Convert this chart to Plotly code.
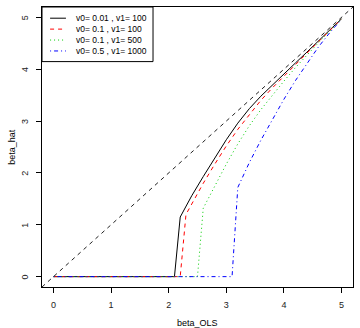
import plotly.graph_objects as go

# ---- data ----
x_a = [0, 2.1, 2.2, 2.4, 2.6, 2.8, 3.0, 3.2, 3.4, 3.6, 3.8, 4.0, 4.2, 4.4, 4.6, 4.8, 5.0]
y_a = [0, 0, 1.15, 1.56, 1.93, 2.29, 2.64, 2.96, 3.24, 3.48, 3.70, 3.91, 4.12, 4.33, 4.55, 4.76, 4.97]

x_b = [0, 2.2, 2.3, 2.4, 2.6, 2.8, 3.0, 3.2, 3.4, 3.6, 3.8, 4.0, 4.2, 4.4, 4.6, 4.8, 5.0]
y_b = [0, 0, 1.2, 1.4, 1.8, 2.17, 2.52, 2.84, 3.13, 3.40, 3.64, 3.87, 4.09, 4.31, 4.53, 4.75, 4.97]

x_c = [0, 2.5, 2.6, 2.8, 3.0, 3.2, 3.4, 3.6, 3.8, 4.0, 4.2, 4.4, 4.6, 4.8, 5.0]
y_c = [0, 0, 1.32, 1.75, 2.17, 2.56, 2.91, 3.22, 3.50, 3.77, 4.03, 4.28, 4.51, 4.74, 4.97]

x_d = [0, 3.1, 3.2, 3.4, 3.6, 3.8, 4.0, 4.2, 4.4, 4.6, 4.8, 5.0]
y_d = [0, 0, 1.72, 2.2, 2.63, 3.04, 3.42, 3.78, 4.11, 4.43, 4.71, 4.96]

labels = ["v0= 0.01 , v1= 100", "v0= 0.1 , v1= 100", "v0= 0.1 , v1= 500", "v0= 0.5 , v1= 1000"]
tick_vals = [0, 1, 2, 3, 4, 5]
tick_text = ["0", "1", "2", "3", "4", "5"]
abline_intercept, abline_slope = 0, 1
x_title = "beta_OLS"
y_title = "beta_hat"

# ---- styles ----
colors = ["black", "red", "#00CD00", "blue"]
dashes = ["solid", "4px,4px", "1px,3px", "1px,3px,4px,3px"]
FONT = "Liberation Sans, Arial, sans-serif"

xr = [-0.2, 5.2]
yr = [-0.2, 5.2]

fig = go.Figure()

# abline(0, 1)
fig.add_trace(go.Scatter(
    x=xr, y=[abline_intercept + abline_slope * v for v in xr],
    mode="lines", line=dict(color="#222222", width=1, dash="4px,4px"),
    showlegend=False, hoverinfo="skip"))

series = [(x_a, y_a), (x_b, y_b), (x_c, y_c), (x_d, y_d)]
for (xs, ys), c, d, lab in zip(series, colors, dashes, labels):
    fig.add_trace(go.Scatter(x=xs, y=ys, mode="lines", name=lab,
                             line=dict(color=c, width=1, dash=d),
                             showlegend=False))

# manual R-style legend
fig.add_shape(type="rect", xref="paper", yref="paper",
              x0=0, x1=0.357, y0=0.805, y1=1.0,
              line=dict(color="black", width=1), fillcolor="white", layer="above")
row_y = [0.960, 0.921, 0.882, 0.843]
for ry, c, d, lab in zip(row_y, colors, dashes, labels):
    fig.add_shape(type="line", xref="paper", yref="paper",
                  x0=0.026, x1=0.077, y0=ry, y1=ry,
                  line=dict(color=c, width=1, dash=d), layer="above")
    fig.add_annotation(xref="paper", yref="paper", x=0.102, y=ry,
                       text=lab, showarrow=False, xanchor="left", yanchor="middle",
                       font=dict(family=FONT, size=8.5, color="black"))

# rotated y tick labels (R las=0 style)
for v, t in zip(tick_vals, tick_text):
    fig.add_annotation(xref="paper", yref="y", x=-0.055, y=v, text=t,
                       showarrow=False, textangle=-90, xanchor="center", yanchor="middle",
                       font=dict(family=FONT, size=9, color="#222222"))

# axis titles
fig.add_annotation(xref="paper", yref="paper", x=0.5, y=-0.13, yanchor="middle",
                   text=x_title, showarrow=False,
                   font=dict(family=FONT, size=9, color="black"))
fig.add_annotation(xref="paper", yref="paper", x=-0.097, y=0.5, xanchor="center",
                   text=y_title, showarrow=False, textangle=-90,
                   font=dict(family=FONT, size=9, color="black"))

axis_common = dict(showgrid=False, zeroline=False, showline=True, mirror=True,
                   linecolor="black", linewidth=1, ticks="outside", ticklen=5,
                   tickcolor="black", tickwidth=1, tickvals=tick_vals,
                   tickfont=dict(family=FONT, size=9, color="#222222"))

fig.update_layout(
    width=360, height=328,
    margin=dict(l=42, r=7, t=7, b=41),
    paper_bgcolor="white", plot_bgcolor="white",
    xaxis=dict(range=xr, ticklabelstandoff=4, ticktext=tick_text, **axis_common),
    yaxis=dict(range=yr, showticklabels=False, **axis_common),
    font=dict(family=FONT),
)

fig.write_html("out.html")
